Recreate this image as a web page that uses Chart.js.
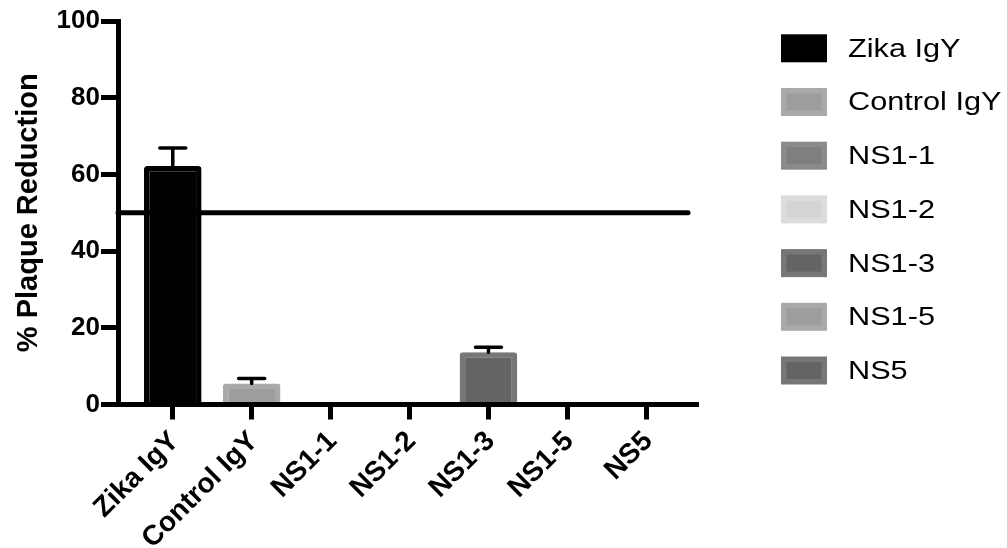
<!DOCTYPE html>
<html>
<head>
<meta charset="utf-8">
<script src="https://cdn.jsdelivr.net/npm/chart.js@4/dist/chart.umd.min.js"></script>
<style>
  html, body { margin: 0; padding: 0; background: #ffffff; }
  #wrap { width: 1007px; height: 548px; }
</style>
</head>
<body>
<div id="wrap"><canvas id="plaque"></canvas></div>
<script>
// Antibody groups and their plaque-reduction results (mean and SEM, %)
const categories   = ['Zika IgY', 'Control IgY', 'NS1-1', 'NS1-2', 'NS1-3', 'NS1-5', 'NS5'];
const reduction    = [62.2, 5.5, 0, 0, 13.6, 0, 0];
const reductionSem = [4.7, 1.3, 0, 0, 1.3, 0, 0];
const threshold    = 50;                       // 50 % reduction cut-off line
const yTickValues  = [0, 20, 40, 60, 80, 100];

// Per-group fill / edge colours
const fillColors = ['#000000', '#9d9da0', '#7f7f7f', '#d4d4d4', '#646464', '#9d9da0', '#646464'];
const edgeColors = ['#000000', '#a9a9a9', '#8c8c8c', '#dcdcdc', '#777777', '#a9a9a9', '#777777'];

const FONT = "'Liberation Sans', Arial, Helvetica, sans-serif";

// Reference line at the threshold value, drawn under the bars
const thresholdLine = {
  id: 'thresholdLine',
  beforeDatasetsDraw(chart) {
    const {ctx, chartArea, scales} = chart;
    const y = scales.y.getPixelForValue(threshold);
    ctx.save();
    ctx.strokeStyle = '#000';
    ctx.lineWidth = 5;
    ctx.lineCap = 'round';
    ctx.beginPath();
    ctx.moveTo(chartArea.left, y);
    ctx.lineTo(chartArea.right - 8, y);
    ctx.stroke();
    ctx.restore();
  }
};

// Upper SEM whiskers on top of each bar
const semWhiskers = {
  id: 'semWhiskers',
  afterDatasetsDraw(chart) {
    const {ctx, scales} = chart;
    ctx.save();
    ctx.strokeStyle = '#000';
    ctx.lineWidth = 3.5;
    ctx.lineCap = 'round';
    chart.data.datasets.forEach((ds, i) => {
      const err = reductionSem[i];
      if (!err) return;
      const bar = chart.getDatasetMeta(i).data[0];
      const yTop = scales.y.getPixelForValue(reduction[i] + err);
      ctx.beginPath();
      ctx.moveTo(bar.x, bar.y);
      ctx.lineTo(bar.x, yTop);
      ctx.moveTo(bar.x - 13, yTop);
      ctx.lineTo(bar.x + 13, yTop);
      ctx.stroke();
    });
    ctx.restore();
  }
};

// Legend column at the right: swatch plus group name (slightly widened type)
const sideLegend = {
  id: 'sideLegend',
  afterDraw(chart) {
    const ctx = chart.ctx;
    const boxLeft = 781, boxW = 46, boxH = 28, inset = 5.5;
    const firstCenter = 48.3, step = 53.7, textX = 848, widen = 1.18;
    ctx.save();
    ctx.font = '26px ' + FONT;
    ctx.textAlign = 'left';
    ctx.textBaseline = 'alphabetic';
    chart.data.datasets.forEach((ds, i) => {
      const cy = firstCenter + i * step;
      const top = cy - boxH / 2;
      ctx.fillStyle = ds.borderColor;
      ctx.fillRect(boxLeft, top, boxW, boxH);
      ctx.fillStyle = ds.backgroundColor;
      ctx.fillRect(boxLeft + inset, top + inset, boxW - 2 * inset, boxH - 2 * inset);
      ctx.save();
      ctx.translate(textX, cy + 8.4);
      ctx.scale(widen, 1);
      ctx.fillStyle = '#000';
      ctx.fillText(ds.label, 0, 0);
      ctx.restore();
    });
    ctx.restore();
  }
};

const datasets = categories.map((name, i) => ({
  label: name,
  data: [{x: i, y: reduction[i]}],
  backgroundColor: fillColors[i],
  borderColor: edgeColors[i],
  borderWidth: 5.5,
  borderRadius: 3,
  borderSkipped: 'start',
  grouped: false,
  barPercentage: 0.73,
  categoryPercentage: 1
}));

new Chart(document.getElementById('plaque'), {
  type: 'bar',
  data: { datasets },
  plugins: [thresholdLine, semWhiskers, sideLegend],
  options: {
    responsive: true,
    maintainAspectRatio: false,
    animation: false,
    layout: { padding: { top: 21, right: 311, bottom: 0, left: 0 } },
    plugins: {
      legend: { display: false },
      tooltip: { enabled: false }
    },
    scales: {
      x: {
        type: 'linear',
        offset: false,
        min: -0.694,
        max: 6.63,
        afterBuildTicks(scale) {
          scale.ticks = categories.map((_, i) => ({ value: i }));
        },
        afterFit(scale) { scale.height = 143.5; },
        ticks: {
          autoSkip: false,
          minRotation: 45,
          maxRotation: 45,
          padding: 5.5,
          labelOffset: 2,
          color: '#000',
          font: { family: FONT, size: 28, weight: 'bold' },
          callback: (v) => categories[v]
        },
        grid: {
          offset: false,
          drawOnChartArea: false,
          drawTicks: true,
          tickLength: 15,
          tickWidth: 5,
          lineWidth: 5,
          color: '#000'
        },
        border: { display: true, color: '#000', width: 5, z: 1 }
      },
      y: {
        min: 0,
        max: 100,
        afterBuildTicks(scale) {
          scale.ticks = yTickValues.map(v => ({ value: v }));
        },
        afterFit(scale) { scale.width = 118; },
        ticks: {
          padding: 1,
          color: '#000',
          font: { family: FONT, size: 26, weight: 'bold' }
        },
        grid: {
          drawOnChartArea: false,
          drawTicks: true,
          tickLength: 17,
          tickWidth: 5,
          lineWidth: 5,
          color: '#000'
        },
        border: { display: true, color: '#000', width: 5, z: 1 },
        title: {
          display: true,
          text: '% Plaque Reduction',
          color: '#000',
          font: { family: FONT, size: 29, weight: 'bold' },
          padding: { top: 12, bottom: 4 }
        }
      }
    }
  }
});
</script>
</body>
</html>
